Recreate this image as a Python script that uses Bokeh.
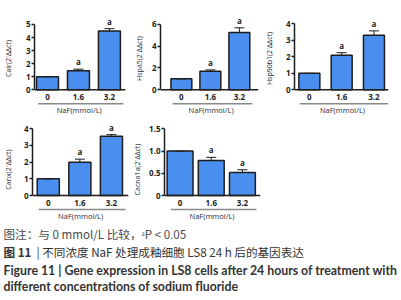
from bokeh.plotting import figure
from bokeh.layouts import column, row
from bokeh.models import (ColumnDataSource, FixedTicker, Range1d, Whisker, Span,
                          TeeHead, LabelSet, Label, CustomJSTickFormatter)
from bokeh.embed import file_html
from bokeh.resources import INLINE
from bokeh.core.properties import value

# ---------------- data ----------------
categories = ["0", "1.6", "3.2"]
x_title = "NaF(mmol/L)"
sig = ["", "a", "a"]

calr_mean = [1.0, 1.46, 4.5]
calr_err = [0.0, 0.12, 0.18]
hspa5_mean = [1.0, 1.7, 5.25]
hspa5_err = [0.0, 0.12, 0.42]
hsp90b1_mean = [1.0, 2.1, 3.3]
hsp90b1_err = [0.0, 0.15, 0.27]
canx_mean = [1.0, 2.0, 3.55]
canx_err = [0.0, 0.18, 0.1]
cacna1a_mean = [1.0, 0.79, 0.52]
cacna1a_err = [0.0, 0.07, 0.06]

calr_ticks = [0, 1, 2, 3, 4, 5]
hspa5_ticks = [0, 2, 4, 6]
hsp90b1_ticks = [0, 1, 2, 3, 4]
canx_ticks = [0, 1, 2, 3, 4]
cacna1a_ticks = [0, 0.5, 1.0, 1.5]

caption1 = "图注：与 0 mmol/L 比较，ᵃP < 0.05"
caption2a = "图 11"
caption2b = "|  不同浓度 NaF 处理成釉细胞 LS8 24 h 后的基因表达"
caption3 = "Figure 11  |  Gene expression in LS8 cells after 24 hours of treatment with"
caption4 = "different concentrations of sodium fluoride"

# ---------------- style ----------------
BAR = "#4a8fef"
INK = "#1e1e1e"
FONT = "Open Sans"


def panel(name, mean, err, yticks, w, h, zero_px, ppu, left, right, lab_standoff,
          xr, bw, decimals=False):
    """zero_px: pixels from figure top to value 0; ppu: pixels per unit."""
    xs = list(range(len(categories)))
    src = ColumnDataSource(dict(
        x=xs, top=mean,
        upper=[m + e for m, e in zip(mean, err)],
        sig=sig))
    ybot = -(h - zero_px) / ppu
    ytop = zero_px / ppu
    p = figure(width=w, height=h, x_range=Range1d(*xr), y_range=Range1d(ybot, ytop),
               output_backend="svg", toolbar_location=None, title=None,
               x_axis_type=None, y_axis_label=None,
               min_border_left=left, min_border_right=right,
               min_border_top=0, min_border_bottom=0)
    p.grid.visible = False
    p.outline_line_color = None
    p.vbar(x="x", top="top", bottom=0, width=bw, source=src, fill_color=BAR,
           line_color=INK, line_width=1.5)
    wh = Whisker(source=src, base="x", lower="top", upper="upper", dimension="height",
                 line_color=INK, line_width=1,
                 upper_head=TeeHead(size=10, line_color=INK, line_width=1),
                 lower_head=None, level="overlay")
    p.add_layout(wh)
    ls = LabelSet(x="x", y="upper", text="sig", source=src, y_offset=2,
                  text_align="center", text_baseline="bottom",
                  text_font=value(FONT), text_font_size="8px",
                  text_font_style="bold", text_color=INK)
    p.add_layout(ls)

    # x axis line at 0
    p.add_layout(Span(location=0, dimension="width", line_color=INK, line_width=1.5))
    # category labels below the axis
    lab_src = ColumnDataSource(dict(x=xs, y=[-7.5 / ppu] * len(xs), t=categories))
    p.text(x="x", y="y", text="t", source=lab_src, text_align="center",
           text_baseline="middle", text_font=value(FONT), text_font_size="8px",
           text_font_style="bold", text_color=INK)
    # grey group line and group title
    gy = -14.0 / ppu
    g0, g1 = -0.3, xs[-1] + 0.45
    p.segment(x0=[g0], y0=[gy], x1=[g1], y1=[gy], line_color="#8a8a8a", line_width=1.5)
    p.text(x=[(g0 + g1) / 2 - 0.05], y=[-20.5 / ppu], text=[x_title], text_align="center",
           text_baseline="middle", text_font=value(FONT), text_font_size="7.5px",
           text_color="#2a2a3a")

    ya = p.yaxis[0]
    ya.ticker = FixedTicker(ticks=yticks)
    ya.bounds = (yticks[0], yticks[-1])
    ya.minor_tick_line_color = None
    ya.major_tick_in = 0
    ya.major_tick_out = 3
    ya.major_tick_line_width = 1.5
    ya.axis_line_width = 1.5
    ya.axis_line_color = INK
    ya.major_tick_line_color = INK
    ya.major_label_text_font = FONT
    ya.major_label_text_font_size = "8px"
    ya.major_label_text_font_style = "bold"
    ya.major_label_text_color = INK
    ya.major_label_standoff = 1
    ya.axis_label = f"{name}(2⁻ΔΔct)"
    ya.axis_label_text_font = FONT
    ya.axis_label_text_font_size = "7px"
    ya.axis_label_text_font_style = "normal"
    ya.axis_label_text_color = "#2a2a3a"
    ya.axis_label_standoff = lab_standoff
    if decimals:
        ya.formatter = CustomJSTickFormatter(
            code="return tick == 0 ? '0' : tick.toFixed(1);")
    return p


# row 1 : figure tops at 0, value 0 at 89 px
f1 = panel("Calr", calr_mean, calr_err, calr_ticks, 131, 116, 89.3, 13.07, 30, 6, 10,
           (-0.42, 2.52), 0.71)
f2 = panel("Hspa5", hspa5_mean, hspa5_err, hspa5_ticks, 130, 116, 89.3, 10.93, 24, 3, 5,
           (-0.72, 2.66), 0.72)
f3 = panel("Hsp90b1", hsp90b1_mean, hsp90b1_err, hsp90b1_ticks, 140, 116, 89.3, 16.5, 28, 13, 9,
           (-0.46, 2.45), 0.65)
# row 2 : figure tops at 116, value 0 at 195 px
f4 = panel("Canx", canx_mean, canx_err, canx_ticks, 130, 106, 79.0, 16.67, 27, 2, 8,
           (-0.5, 2.54), 0.70)
f5 = panel("Cacna1a", cacna1a_mean, cacna1a_err, cacna1a_ticks, 135, 106, 79.0, 44.4, 30, 5, 4,
           (-0.5, 2.58), 0.83, decimals=True)

CAP_H = 77
cap = figure(width=401, height=CAP_H, x_range=Range1d(0, 401), y_range=Range1d(0, CAP_H),
             x_axis_type=None, y_axis_type=None, output_backend="svg",
             toolbar_location=None, title=None, min_border=0)
cap.outline_line_color = None
CJK = "Noto Sans CJK SC"
cap.add_layout(Label(x=3, y=CAP_H - 11, text=caption1, text_font=CJK, text_font_size="11.6px",
                     text_color="#4a4a4a", text_baseline="middle"))
cap.add_layout(Label(x=3, y=CAP_H - 29, text=caption2a, text_font=CJK, text_font_size="11.6px",
                     text_font_style="bold", text_color="#333333", text_baseline="middle"))
cap.add_layout(Label(x=36, y=CAP_H - 29, text=caption2b, text_font=CJK, text_font_size="11.6px",
                     text_color="#333333", text_baseline="middle"))
cap.add_layout(Label(x=3, y=CAP_H - 48, text=caption3, text_font="Lato", text_font_size="12.3px",
                     text_font_style="bold", text_color="#333333", text_baseline="middle"))
cap.add_layout(Label(x=3, y=CAP_H - 64, text=caption4, text_font="Lato", text_font_size="12.3px",
                     text_font_style="bold", text_color="#333333", text_baseline="middle"))

layout = column(row(f1, f2, f3), row(f4, f5), cap)
open("out.html", "w").write(file_html(layout, INLINE))
